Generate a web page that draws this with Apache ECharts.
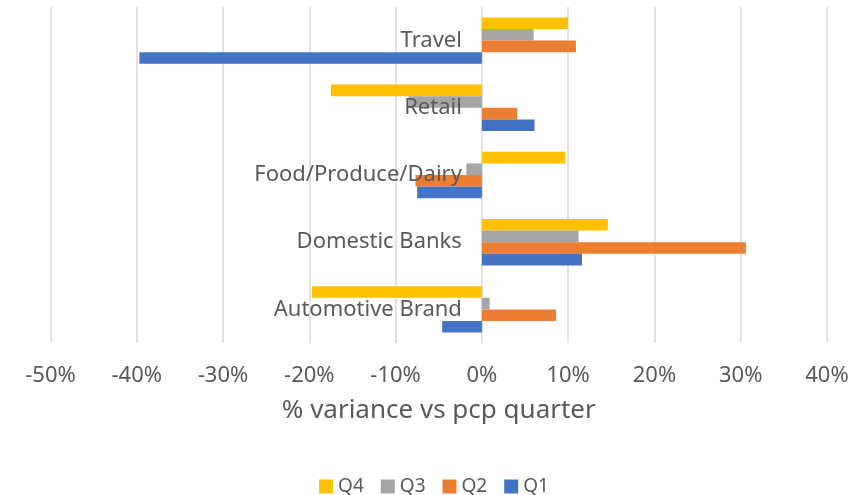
<!DOCTYPE html>
<html>
<head>
<meta charset="utf-8">
<script src="https://cdn.jsdelivr.net/npm/echarts@6/dist/echarts.min.js"></script>
<style>
  html, body { margin: 0; padding: 0; background: #fff; }
  #chart { width: 868px; height: 495px; }
</style>
</head>
<body>
<div id="chart"></div>
<script>
// categories bottom -> top (ECharts category y axis starts at the bottom)
const categories = ['Automotive Brand', 'Domestic Banks', 'Food/Produce/Dairy', 'Retail', 'Travel']
// % variance vs pcp quarter, same order as categories
const q1 = [-4.6, 11.6, -7.5, 6.1, -39.7]
const q2 = [8.6, 30.6, -7.7, 4.1, 10.9]
const q3 = [0.9, 11.2, -1.8, -8.5, 6.0]
const q4 = [-19.7, 14.6, 9.7, -17.5, 10.0]
const xTicks = { min: -50, max: 40, step: 10 }

const textColor = '#595959'
const gridColor = '#d9d9d9'
const font = 'Noto Sans'

const W = 868
const gridLeft = 50.5
const gridRight = 41
// category axis sits on the 0% line, like the excel chart
const zeroOffset = -(W - gridLeft - gridRight) * (0 - xTicks.min) / (xTicks.max - xTicks.min)

const chart = echarts.init(document.getElementById('chart'), null, {renderer: 'canvas'})

const bar = (name, data, color) => ({
  name: name,
  type: 'bar',
  data: data,
  itemStyle: { color: color },
  barGap: '0%',
  barCategoryGap: '31%'
})

const option = {
  animation: false,
  textStyle: { fontFamily: font },
  grid: {
    left: gridLeft,
    right: gridRight,
    top: 7,
    bottom: 152,
    containLabel: false,
    outerBoundsMode: 'none'
  },
  legend: {
    data: ['Q4', 'Q3', 'Q2', 'Q1'],
    left: 'center',
    top: 472,
    itemWidth: 14,
    itemHeight: 14,
    itemGap: 17,
    icon: 'rect',
    textStyle: { color: textColor, fontSize: 19, fontFamily: font }
  },
  xAxis: {
    type: 'value',
    min: xTicks.min,
    max: xTicks.max,
    interval: xTicks.step,
    name: '% variance vs pcp quarter',
    nameLocation: 'middle',
    nameGap: 55,
    nameTextStyle: { color: textColor, fontSize: 26, fontFamily: font },
    axisLine: { show: false },
    axisTick: { show: false },
    axisLabel: {
      color: textColor,
      fontSize: 22,
      margin: 22,
      formatter: '{value}%'
    },
    splitLine: {
      show: true,
      lineStyle: { color: gridColor, width: 1.5 }
    }
  },
  yAxis: {
    type: 'category',
    data: categories,
    z: 10,
    offset: zeroOffset,
    axisLine: { show: false, onZero: false },
    axisTick: { show: false },
    splitLine: { show: false },
    axisLabel: {
      color: textColor,
      fontSize: 22,
      margin: 20
    }
  },
  // first series is drawn at the bottom of each band, so Q4 comes last
  series: [
    bar('Q4', q4, '#FFC000'),
    bar('Q3', q3, '#A5A5A5'),
    bar('Q2', q2, '#ED7D31'),
    bar('Q1', q1, '#4472C4')
  ]
}

chart.setOption(option)
</script>
</body>
</html>
